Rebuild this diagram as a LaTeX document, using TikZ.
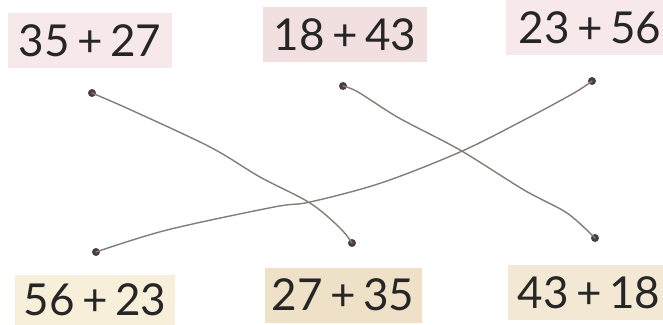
\documentclass[tikz,border=0pt]{standalone}
\usepackage{fontspec}
\setmainfont{Lato}
\definecolor{pinkA}{HTML}{F7E9E9}
\definecolor{pinkB}{HTML}{F2E0E0}
\definecolor{tanA}{HTML}{F7EFDA}
\definecolor{tanB}{HTML}{EFE0C8}
\definecolor{tanC}{HTML}{F3E8D3}
\definecolor{wire}{HTML}{857B77}
\definecolor{dotc}{HTML}{4A3F3D}
\begin{document}
\begin{tikzpicture}[x=1pt,y=-1pt,
  card/.style={inner sep=0pt,minimum height=55pt,text=black!85,font=\fontsize{44}{44}\selectfont},
  pin/.style={circle,fill=dotc,inner sep=0pt,minimum size=8pt},
  wireline/.style={draw=wire,line width=1.4pt,line cap=round}]
\useasboundingbox (0,0) rectangle (663,324);
\clip (0,0) rectangle (663,324);
\node[card,fill=pinkA,minimum width=164pt] (t1) at (90,40.5) {35\,+\,27};
\node[card,fill=pinkB,minimum width=164pt] (t2) at (345,34.5) {18\,+\,43};
\node[card,fill=pinkA,minimum width=168pt] (t3) at (590,27.5) {23\,+\,56};
\node[card,fill=tanA,minimum width=160pt,minimum height=62pt] (b1) at (95,306) {};
\node[card] (b1t) at (95,300) {56\,+\,23};
\node[card,fill=tanB,minimum width=157pt] (b2) at (343,295) {27\,+\,35};
\node[card,fill=tanC,minimum width=162pt] (b3) at (589,292.5) {43\,+\,18};
\node[pin] (p1) at (92,93) {};
\node[pin] (p2) at (343,86) {};
\node[pin] (p3) at (592,81) {};
\node[pin] (q1) at (96,252) {};
\node[pin] (q2) at (352,243) {};
\node[pin] (q3) at (595,238) {};
\draw[wireline] plot[smooth,tension=0.55] coordinates {(p1.center) (131,110) (210,147) (260,177) (310,203) (340,228) (q2.center)};
\draw[wireline] plot[smooth,tension=0.5] coordinates {(p2.center) (358,92) (399,118) (460,150) (524,190) (567,213) (q3.center)};
\draw[wireline] plot[smooth,tension=0.55] coordinates {(q1.center) (167,230) (274,207) (310,202) (381,183) (460,152) (524,120) (574,93) (p3.center)};
\end{tikzpicture}
\end{document}
